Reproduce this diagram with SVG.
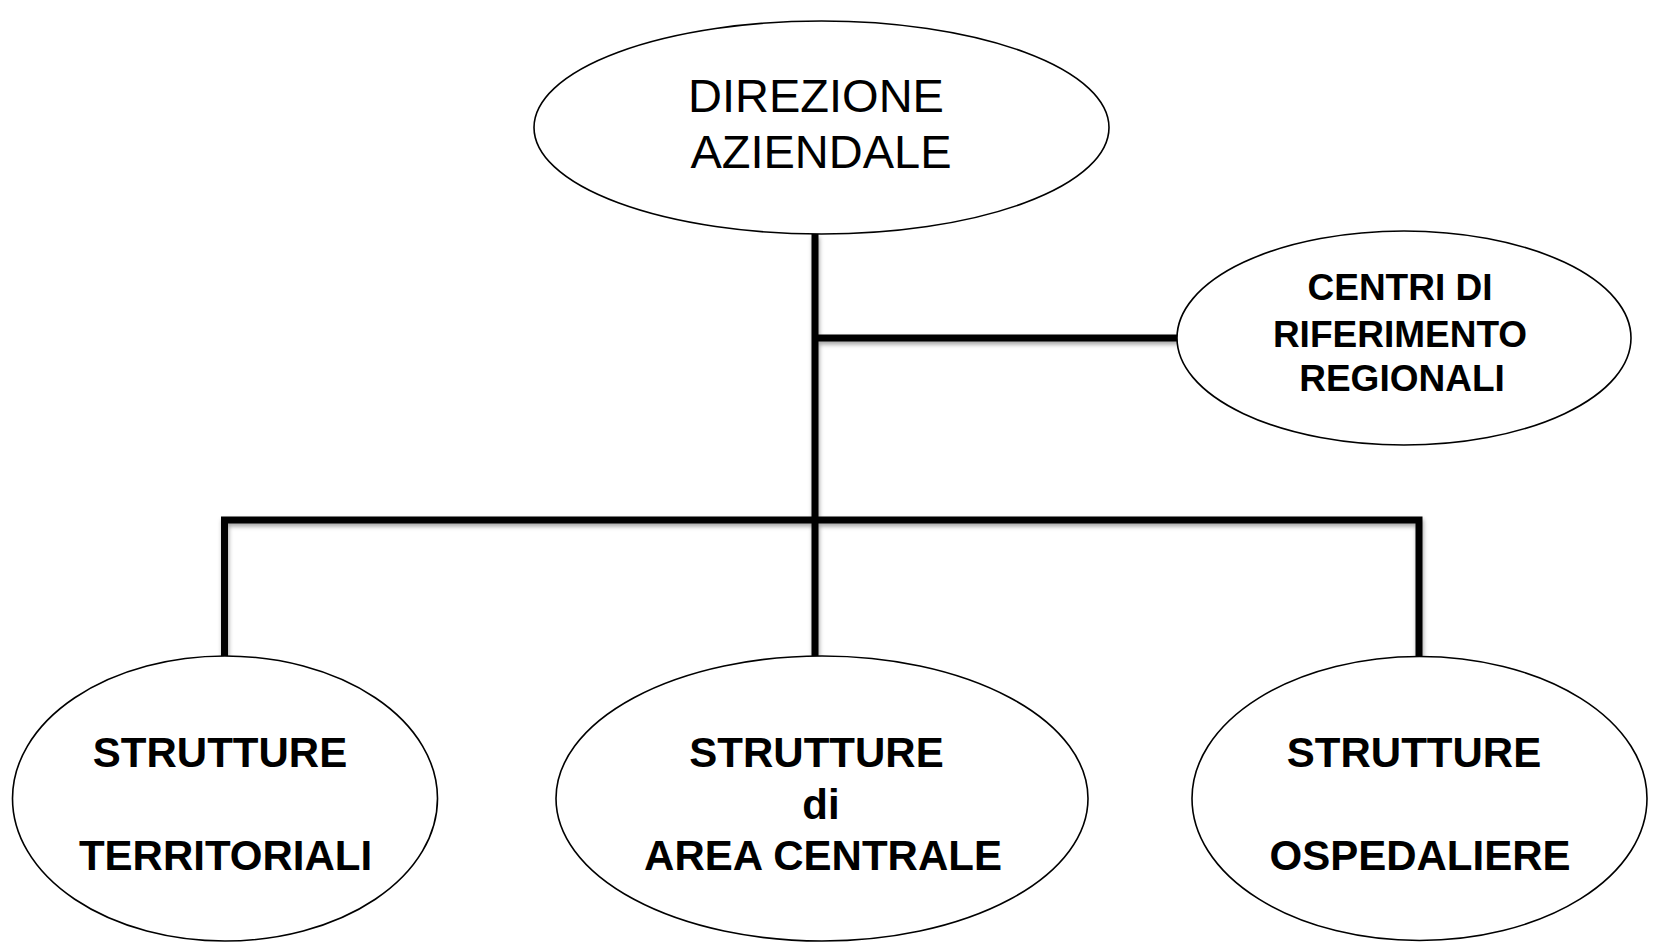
<svg xmlns="http://www.w3.org/2000/svg" width="1653" height="944" viewBox="0 0 1653 944">
<style>
.node ellipse{fill:#fff;stroke:#000;stroke-width:1.6}
.conn{fill:none;stroke:#000;stroke-width:7;stroke-linecap:butt;stroke-linejoin:miter}
.t{font-family:"Liberation Sans",Arial,sans-serif;fill:#000;text-anchor:middle}
.reg{font-size:47px}
.b37{font-size:37px;font-weight:bold}
.b42{font-size:42px;font-weight:bold}
</style>
<defs>
<filter id="sh" x="-5%" y="-20%" width="110%" height="140%">
<feDropShadow dx="1" dy="3" stdDeviation="2" flood-color="#000" flood-opacity="0.35"/>
</filter>
</defs>
<rect width="1653" height="944" fill="#fff"/>
<g id="connectors" filter="url(#sh)">
<path class="conn" d="M815 234 V656"/>
<path class="conn" d="M815 338 H1178"/>
<path class="conn" d="M224.5 657 V520 H1419 V659"/>
</g>
<g id="direzione" class="node">
<ellipse cx="821.5" cy="127.5" rx="287.5" ry="106.5"/>
<text class="t reg" x="816" y="112">DIREZIONE</text>
<text class="t reg" x="821" y="168">AZIENDALE</text>
</g>
<g id="centri" class="node">
<ellipse cx="1404" cy="338" rx="227" ry="107"/>
<text class="t b37" x="1400" y="300">CENTRI DI</text>
<text class="t b37" x="1400" y="347">RIFERIMENTO</text>
<text class="t b37" x="1402" y="391">REGIONALI</text>
</g>
<g id="territoriali" class="node">
<ellipse cx="225" cy="798.5" rx="212.5" ry="142.5"/>
<text class="t b42" x="220" y="767">STRUTTURE</text>
<text class="t b42" x="225.5" y="870">TERRITORIALI</text>
</g>
<g id="area-centrale" class="node">
<ellipse cx="822" cy="798.5" rx="266" ry="142.5"/>
<text class="t b42" x="816.5" y="767">STRUTTURE</text>
<text class="t b42" x="821" y="819">di</text>
<text class="t b42" x="823" y="870">AREA CENTRALE</text>
</g>
<g id="ospedaliere" class="node">
<ellipse cx="1419.5" cy="798.5" rx="227.5" ry="142"/>
<text class="t b42" x="1414" y="767">STRUTTURE</text>
<text class="t b42" x="1420" y="870">OSPEDALIERE</text>
</g>
</svg>
